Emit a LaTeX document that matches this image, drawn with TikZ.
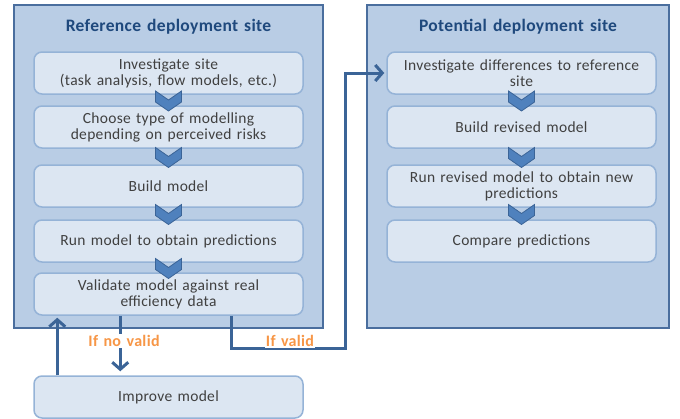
\documentclass[tikz,border=0pt]{standalone}
\usepackage{fontspec}
\setmainfont{Carlito}[LetterSpace=2,WordSpace=1.4]
\usetikzlibrary{arrows.meta,calc}
\definecolor{panelfill}{HTML}{B9CDE5}
\definecolor{paneldraw}{HTML}{4A6E9E}
\definecolor{boxfill}{HTML}{DCE6F2}
\definecolor{boxdraw}{HTML}{95B3D7}
\definecolor{flowblue}{HTML}{3B6497}
\definecolor{titleblue}{HTML}{1F497D}
\definecolor{chevfill}{HTML}{4F81BD}
\definecolor{labelorange}{HTML}{F79646}
\tikzset{
>={Straight Barb[length=7pt,width=16pt]},
panel/.style={draw=paneldraw,fill=panelfill,line width=1.8pt,minimum height=323pt},
site title/.style={text=titleblue,font=\fontsize{17.5}{20}\selectfont\bfseries},
stage box/.style={draw=boxdraw,fill=boxfill,line width=1.5pt,rounded corners=8pt,minimum width=269pt,minimum height=42pt,
  align=center,text=black!75,font=\fontsize{15.5}{16}\selectfont},
flow/.style={draw=flowblue,line width=3pt},
cond/.style={text=labelorange,font=\fontsize{16}{18}\selectfont\bfseries,fill=white,inner sep=1pt},
chevron/.pic={\filldraw[fill=chevfill,draw=flowblue,line width=0.8pt] (-13,-9) -- (0,0) -- (13,-9) -- (13,2) -- (0,11) -- (-13,2) -- cycle;}}

\begin{document}
\begin{tikzpicture}[x=1pt,y=-1pt]
\useasboundingbox (0,0) rectangle (680,418);

\node[panel,minimum width=309pt] (refsite) at (168.5,166.5) {};
\node[panel,minimum width=302pt] (potsite) at (518,166.5) {};
\node[site title] (t1) at (168.5,27) {Reference deployment site};
\node[site title] (t2) at (518,27) {Potential deployment site};

\node[stage box] (l1) at (168.5,73) {Investigate site\\(task analysis, flow models, etc.)};
\node[stage box] (l2) at (168.5,127) {Choose type of modelling\\depending on perceived risks};
\node[stage box] (l3) at (168.5,186) {Build model};
\node[stage box] (l4) at (168.5,241) {Run model to obtain predictions};
\node[stage box] (l5) at (168.5,294) {Validate model against real\\efficiency data};
\node[stage box] (imp) at (168.5,397) {Improve model};

\node[stage box] (r1) at (521.5,73) {Investigate differences to reference\\site};
\node[stage box] (r2) at (521.5,127) {Build revised model};
\node[stage box] (r3) at (521.5,186) {Run revised model to obtain new\\predictions};
\node[stage box] (r4) at (521.5,241) {Compare predictions};

\foreach \a/\b in {l1/l2,l2/l3,l3/l4,l4/l5,r1/r2,r2/r3,r3/r4}
  \pic at ($(\a.south)!0.5!(\b.north)$) {chevron};

\coordinate (bend) at (345,348);
\draw[flow,->] ([xshift=24pt]imp.north west) -- ([xshift=24pt,yshift=-2pt]l5.south west);
\draw[flow,->] ([xshift=87pt]l5.south west) -- ([xshift=87pt,yshift=4pt]imp.north west);
\draw[flow,->] ([xshift=198pt]l5.south west) |- (bend) |- ([xshift=-2pt]r1.west);

\node[cond] (nv) at (124,341) {If no valid};
\node[cond] (v) at (290,341) {If valid};

\end{tikzpicture}
\end{document}
